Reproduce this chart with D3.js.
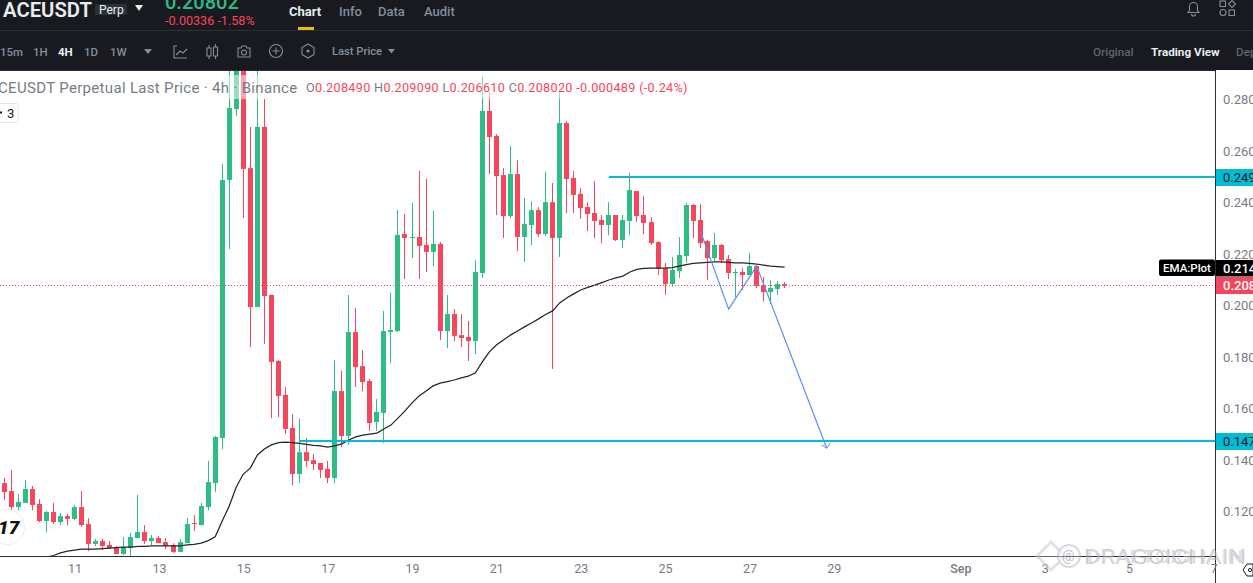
<!DOCTYPE html>
<html><head><meta charset="utf-8">
<script src="https://cdn.jsdelivr.net/npm/d3@7/dist/d3.min.js"></script>
<style>html,body{margin:0;padding:0;background:#fff;overflow:hidden}svg{display:block}text{font-family:Roboto,"Noto Sans",sans-serif}</style>
</head><body><svg id="c" width="1253" height="583"></svg>
<script>
const opens=[.1311,.1280,.1218,.1234,.1288,.1230,.1164,.1199,.1160,.1183,.1172,.1218,.1152,.1075,.1086,.1071,.1063,.1036,.1059,.1098,.1121,.1086,.1098,.1082,.1071,.1044,.1078,.1156,.1148,.1218,.1311,.1486,.2487,.2762,.2991,.2533,.1994,.2693,.2041,.1785,.1653,.1525,.1346,.1431,.1400,.1389,.1366,.1331,.1668,.1494,.1897,.1765,.1707,.1548,.1583,.1897,.1901,.2277,.2262,.2266,.2235,.2208,.2239,.1901,.1967,.1885,.1878,.1862,.2126,.2755,.2658,.2506,.2347,.2510,.2266,.2312,.2370,.2277,.2401,.2262,.2708,.2495,.2433,.2382,.2359,.2332,.2312,.2351,.2254,.2328,.2444,.2351,.2324,.2246,.2145,.2083,.2134,.2192,.2390,.2332,.2250,.2184,.2235,.2180,.2126,.2130,.2118,.2153,.2079,.2052,.2064,.2083];
const highs=[.1331,.1362,.1269,.1323,.1300,.1249,.1203,.1234,.1195,.1191,.1226,.1280,.1175,.1094,.1094,.1086,.1067,.1102,.1117,.1265,.1148,.1110,.1106,.1098,.1078,.1094,.1175,.1187,.1234,.1397,.1494,.2549,.2953,.3022,.3022,.2693,.2953,.2801,.2041,.1789,.1684,.1579,.1560,.1486,.1424,.1389,.1397,.1789,.1746,.2041,.1990,.1827,.1715,.1637,.1979,.2049,.2370,.2355,.2398,.2522,.2491,.2367,.2246,.2041,.1986,.1967,.1940,.2176,.2890,.2828,.2665,.2533,.2619,.2564,.2417,.2405,.2382,.2518,.2475,.2832,.2716,.2522,.2456,.2401,.2483,.2351,.2401,.2351,.2351,.2514,.2444,.2425,.2343,.2250,.2165,.2188,.2266,.2398,.2394,.2394,.2254,.2281,.2239,.2196,.2142,.2145,.2204,.2157,.2111,.2099,.2095,.2091];
const lows=[.1245,.1206,.1206,.1234,.1206,.1160,.1121,.1152,.1148,.1148,.1168,.1141,.1047,.1067,.1051,.1055,.1036,.1032,.1024,.1098,.1075,.1071,.1078,.1055,.1040,.1044,.1078,.1125,.1148,.1206,.1276,.1443,.2219,.2735,.2339,.1839,.1994,.1851,.1563,.1567,.1501,.1303,.1311,.1373,.1362,.1331,.1311,.1311,.1451,.1459,.1684,.1668,.1513,.1513,.1466,.1777,.1897,.2103,.2184,.2103,.2130,.2153,.1866,.1835,.1862,.1839,.1785,.1812,.2107,.2510,.2351,.2262,.2339,.2211,.2169,.2235,.2266,.2270,.1754,.2188,.2359,.2359,.2336,.2289,.2262,.2242,.2273,.2250,.2223,.2273,.2324,.2277,.2235,.2118,.2041,.2072,.2107,.2165,.2262,.2223,.2099,.2173,.2165,.2103,.2033,.2060,.2118,.2068,.2017,.2006,.2041,.2068];
const closes=[.1276,.1218,.1238,.1288,.1226,.1164,.1199,.1160,.1183,.1172,.1218,.1148,.1075,.1086,.1067,.1059,.1036,.1063,.1102,.1121,.1086,.1098,.1078,.1067,.1044,.1082,.1152,.1152,.1222,.1315,.1490,.2487,.2766,.2991,.2530,.1994,.2693,.2037,.1781,.1649,.1521,.1346,.1431,.1397,.1385,.1362,.1331,.1668,.1494,.1897,.1761,.1703,.1544,.1587,.1901,.1905,.2274,.2262,.2266,.2231,.2208,.2239,.1901,.1967,.1882,.1874,.1862,.2130,.2755,.2654,.2502,.2347,.2510,.2266,.2316,.2370,.2277,.2401,.2262,.2708,.2491,.2429,.2378,.2355,.2328,.2312,.2351,.2254,.2332,.2448,.2347,.2320,.2242,.2142,.2083,.2138,.2196,.2390,.2328,.2242,.2184,.2235,.2176,.2126,.2130,.2118,.2153,.2076,.2052,.2068,.2083,.2076];
const emaFirstCandle=6;
const emaValues=[.1024,.1030,.1040,.1047,.1051,.1055,.1055,.1055,.1057,.1059,.1061,.1063,.1063,.1065,.1065,.1067,.1067,.1067,.1067,.1067,.1071,.1073,.1078,.1088,.1103,.1164,.1222,.1296,.1346,.1369,.1420,.1443,.1459,.1468,.1470,.1468,.1465,.1461,.1457,.1455,.1451,.1455,.1463,.1478,.1490,.1497,.1501,.1505,.1521,.1536,.1563,.1591,.1622,.1649,.1668,.1688,.1699,.1705,.1711,.1719,.1726,.1738,.1781,.1820,.1847,.1866,.1885,.1901,.1917,.1932,.1948,.1965,.1979,.2010,.2029,.2045,.2060,.2070,.2079,.2089,.2099,.2107,.2114,.2130,.2140,.2144,.2145,.2145,.2145,.2147,.2153,.2159,.2163,.2165,.2167,.2169,.2169,.2167,.2165,.2165,.2163,.2161,.2157,.2153,.2151,.2149];
const priceTicks=[.28,.26,.24,.22,.20,.18,.16,.14,.12];
const priceTickLabels=["0.280","0.260","0.240","0.220","0.200","0.180","0.160","0.140","0.120"];
const dateTicks=["2023-08-11","2023-08-13","2023-08-15","2023-08-17","2023-08-19","2023-08-21","2023-08-23","2023-08-25","2023-08-27","2023-08-29","2023-09-01","2023-09-03","2023-09-05","2023-09-07"];
const dateTickLabels=["11","13","15","17","19","21","23","25","27","29","Sep","3","5","7"];
const levelPrices=[.2499,.1475];
const levelLabels=["0.249","0.147"];
const levelStartCandles=[86,42];
const zigzagCandles=[99.06,103.04,107.03,117];
const zigzagPrices=[.2286,.1986,.2153,.1446];
const lastPrice=.2078, lastPriceLabel="0.208", emaLabel="0.214", emaLast=.2149;
const legendOHLC=[["O","0.208490"],["H","0.209090"],["L","0.206610"],["C","0.208020"]];
const intervals=[["15m",0],["1H",33],["4H",58],["1D",84],["1W",110]];
const tabs=[["Chart",289],["Info",339],["Data",378],["Audit",424]];

const GREEN="#2ebd85",RED="#f6465d",CYAN="#00bcd4",BLUE="#5b8ff5",AX="#2a2e39",TXT="#787b86";
const svg=d3.select("#c");
const y=d3.scaleLinear().domain([.28,.12]).range([99.3,511.7]);
const t0=Date.UTC(2023,7,9,8);
const H4=4*3600e3;
const x=d3.scaleUtc().domain([new Date(Date.UTC(2023,7,11)),new Date(Date.UTC(2023,7,29))]).range([74.6,833.8]);
const xi=i=>x(new Date(t0+i*H4));

svg.append("defs").append("clipPath").attr("id","plot").append("rect").attr("x",0).attr("y",71).attr("width",1215).attr("height",485.5);
const plot=svg.append("g").attr("clip-path","url(#plot)");

// candles
const candles=opens.map((o,i)=>({i,o,h:highs[i],l:lows[i],c:closes[i],up:closes[i]>=o}));
const gc=plot.append("g").selectAll("g").data(candles).join("g").attr("fill",d=>d.up?GREEN:RED);
const left=d=>Math.round(xi(d.i)-2.5);
gc.append("rect").attr("x",d=>left(d)+2).attr("width",1).attr("y",d=>y(d.h)).attr("height",d=>y(d.l)-y(d.h));
gc.append("rect").attr("x",left).attr("width",5).attr("y",d=>y(Math.max(d.o,d.c))).attr("height",d=>Math.max(1,Math.abs(y(d.o)-y(d.c))));

// EMA
plot.append("path").datum(emaValues).attr("fill","none").attr("stroke","#22252c").attr("stroke-width",1.25)
 .attr("d",d3.line().x((d,i)=>xi(i+emaFirstCandle)).y(d=>y(d)));

// level lines
levelPrices.forEach((p,k)=>plot.append("rect").attr("x",xi(levelStartCandles[k])).attr("width",1215-xi(levelStartCandles[k])).attr("y",Math.round(y(p)-1)).attr("height",2).attr("fill",CYAN));

// zigzag
const zz=zigzagCandles.map((c,k)=>[xi(c),y(zigzagPrices[k])]);
plot.append("path").attr("fill","none").attr("stroke",BLUE).attr("stroke-width",1.2).attr("d",d3.line()(zz));
const tip=zz[zz.length-1];
plot.append("path").attr("fill","none").attr("stroke",BLUE).attr("stroke-width",1).attr("d",`M${tip[0]-5.5},${tip[1]-3.5}L${tip[0]},${tip[1]}L${tip[0]+3.5},${tip[1]-5.5}`);

// last price dotted
plot.append("line").attr("x1",0).attr("x2",1215).attr("y1",Math.round(y(lastPrice))+.5).attr("y2",Math.round(y(lastPrice))+.5).attr("stroke",RED).attr("stroke-width",1).attr("stroke-dasharray","1 2");

// legend veil + text
svg.append("rect").attr("x",0).attr("y",75).attr("width",690).attr("height",24).attr("fill","#fff").attr("opacity",.5);
svg.append("text").attr("x",-12).attr("y",93).attr("font-size",15).attr("letter-spacing",.32).attr("fill",TXT).text("ACEUSDT Perpetual Last Price · 4h · Binance");
const lg=svg.append("text").attr("x",306).attr("y",92).attr("font-size",12.6).attr("letter-spacing",.34);
legendOHLC.forEach(([a,b])=>{lg.append("tspan").attr("fill",TXT).text(a);lg.append("tspan").attr("fill",RED).text(b+" ");});
lg.append("tspan").attr("fill",RED).text("-0.000489 (-0.24%)");

// badge
svg.append("rect").attr("x",-4).attr("y",103.5).attr("width",22).attr("height",19).attr("rx",2).attr("fill","#fff").attr("stroke","#e0e3eb");
svg.append("text").attr("x",7).attr("y",118).attr("font-size",13).attr("fill","#131722").text("3");
svg.append("rect").attr("x",0).attr("y",111.5).attr("width",2).attr("height",2).attr("fill","#131722");

// TV logo
svg.append("circle").attr("cx",7).attr("cy",527).attr("r",17.5).attr("fill","#fff").attr("stroke","#eceef2");
svg.append("text").attr("x",-2).attr("y",534).attr("font-size",19).attr("font-weight",900).attr("font-style","italic").attr("fill","#111").text("17");

// axes
const yAxisG=svg.append("g").attr("transform","translate(1215.5,0)").call(d3.axisRight(y).tickValues(priceTicks).tickFormat((d,i)=>priceTickLabels[i]).tickSize(0).tickPadding(7.5));
yAxisG.select(".domain").attr("d","M0,70V583").attr("stroke",AX);
yAxisG.selectAll("text").attr("fill",TXT).attr("font-size",13).attr("font-family","Roboto");
const xAxisG=svg.append("g").attr("transform","translate(0,556.5)").call(d3.axisBottom(x).tickValues(dateTicks.map(d=>new Date(d+"T00:00:00Z"))).tickFormat((d,i)=>dateTickLabels[i]).tickSize(0).tickPadding(7.5));
xAxisG.select(".domain").attr("d","M0,0H1215").attr("stroke",AX);
xAxisG.selectAll("text").attr("fill",TXT).attr("font-size",12.5).attr("font-family","Roboto").attr("font-weight",(d,i)=>dateTickLabels[i]==="Sep"?500:400);

// price tags
function tag(yTop,h,bg,fg,txt,w){
 svg.append("rect").attr("x",1216).attr("y",yTop).attr("width",37).attr("height",h).attr("fill",bg);
 svg.append("text").attr("x",1223).attr("y",yTop+h/2+4.6).attr("font-size",13).attr("font-weight",w||400).attr("fill",fg).text(txt);
}
tag(169,17,CYAN,"#131722",levelLabels[0]);
tag(433,17,CYAN,"#131722",levelLabels[1]);
tag(260,16.5,"#000","#fff",emaLabel,500);
tag(277,17,RED,"#fff",lastPriceLabel,500);
svg.append("rect").attr("x",1159).attr("y",259.5).attr("width",56).attr("height",16.5).attr("rx",2).attr("fill","#000");
svg.append("text").attr("x",1163).attr("y",272).attr("font-size",11.5).attr("font-weight",500).attr("fill","#fff").text("EMA:Plot");

// hexagon bottom right
svg.append("path").attr("d","M1243,570l4,-6h6v12h-6z").attr("fill","#fff").attr("stroke","#131722");
svg.append("circle").attr("cx",1250).attr("cy",570).attr("r",1.6).attr("fill","none").attr("stroke","#131722");

// watermark
const wm=svg.append("g").attr("opacity",.55);
wm.append("path").attr("d","M1037,556l14,-14l14,14l-14,14z").attr("fill","#fff").attr("fill-opacity",.5).attr("stroke","#c9ccd2").attr("stroke-width",3);
wm.append("circle").attr("cx",1069).attr("cy",556).attr("r",11).attr("fill","#fff").attr("fill-opacity",.5).attr("stroke","#b9bcc2").attr("stroke-width",2);
wm.append("text").attr("x",1062).attr("y",561).attr("font-size",14).attr("fill","#8d9096").text("@");
wm.append("text").attr("x",1084).attr("y",564).attr("font-size",21).attr("fill","#a4a7ad").attr("textLength",162).attr("lengthAdjust","spacingAndGlyphs").text("DRAGOICHAIN");
wm.append("text").attr("x",1087).attr("y",563).attr("font-size",19).attr("fill","#bcbfc4").attr("textLength",156).attr("lengthAdjust","spacingAndGlyphs").text("DRAFTOIGHAIN");

// header
const hd=svg.append("g");
hd.append("rect").attr("width",1253).attr("height",70).attr("fill","#181a20");
hd.append("rect").attr("y",30).attr("width",1253).attr("height",1).attr("fill","#2b3139");
hd.append("rect").attr("y",70).attr("width",1215).attr("height",1).attr("fill","#2a2e39");
const T=(s,xx,yy,fs,fill,w)=>hd.append("text").attr("x",xx).attr("y",yy).attr("font-size",fs).attr("fill",fill).attr("font-weight",w||400).text(s);
T("ACEUSDT",3,17,20.3,"#eaecef",600);
hd.append("rect").attr("x",95).attr("y",4).attr("width",32).attr("height",11).attr("rx",1).attr("fill","#2b3139");
T("Perp",99,14,12,"#eaecef",400);
hd.append("path").attr("d","M135,5h8l-4,6z").attr("fill","#eaecef");
T("0.20802",165,9,20,GREEN,500);
T("-0.00336 -1.58%",165,25,12.6,RED,400);
tabs.forEach(([s,xx],k)=>T(s,xx,16,13,k?"#848e9c":"#eaecef",k?500:700));
hd.append("rect").attr("x",298).attr("y",27).attr("width",16).attr("height",3).attr("fill","#f0b90b");
intervals.forEach(([s,xx])=>T(s,xx,56,11.5,s==="4H"?"#eaecef":"#848e9c",s==="4H"?700:500));
const ic=hd.append("g").attr("fill","none").attr("stroke","#848e9c").attr("stroke-width",1.1);
hd.append("path").attr("d","M144,49h8l-4,5z").attr("fill","#848e9c");
ic.append("path").attr("d","M174,45v13h13M176,55l4,-4l3,2l4,-4M175,46h2");
ic.append("path").attr("d","M207,48h4v8h-4zM213.5,47h4v9h-4zM209,45v3M209,56v3M215.5,44v3M215.5,56v3");
ic.append("path").attr("d","M238,48h3l1,-2h4l1,2h3v9h-12z");ic.append("circle").attr("cx",244).attr("cy",52.5).attr("r",2.5);
ic.append("circle").attr("cx",276).attr("cy",51).attr("r",6.5);ic.append("path").attr("d","M272.5,51h7M276,47.5v7");
ic.append("path").attr("d","M308,44l6,3.5v7l-6,3.5l-6,-3.5v-7z");hd.append("circle").attr("cx",308).attr("cy",51).attr("r",1.6).attr("fill","#848e9c");
T("Last Price",332,55,11.2,"#848e9c",500);
hd.append("path").attr("d","M388,49h7l-3.5,4.5z").attr("fill","#848e9c");
T("Original",1093,56,11.7,"#5e6673",500);
T("Trading View",1151,56,11.7,"#eaecef",700);
T("Depth",1236,56,11.7,"#5e6673",500);
// bell + grid
ic.append("path").attr("d","M1188,12.5h11l-1.5,-2v-4a4,4 0 0 0 -8,0v4zM1191.5,14a2,2 0 0 0 4,0").attr("stroke","#848e9c");
const g2=hd.append("g").attr("fill","none").attr("stroke","#848e9c").attr("stroke-width",1.1);
g2.append("rect").attr("x",1220).attr("y",1).attr("width",5.5).attr("height",5.5);
g2.append("path").attr("d","M1232,0.5l3.5,3.5l-3.5,3.5l-3.5,-3.5z");
g2.append("circle").attr("cx",1223).attr("cy",12.5).attr("r",3);
g2.append("rect").attr("x",1229).attr("y",10).attr("width",5.5).attr("height",5.5);
</script></body></html>
